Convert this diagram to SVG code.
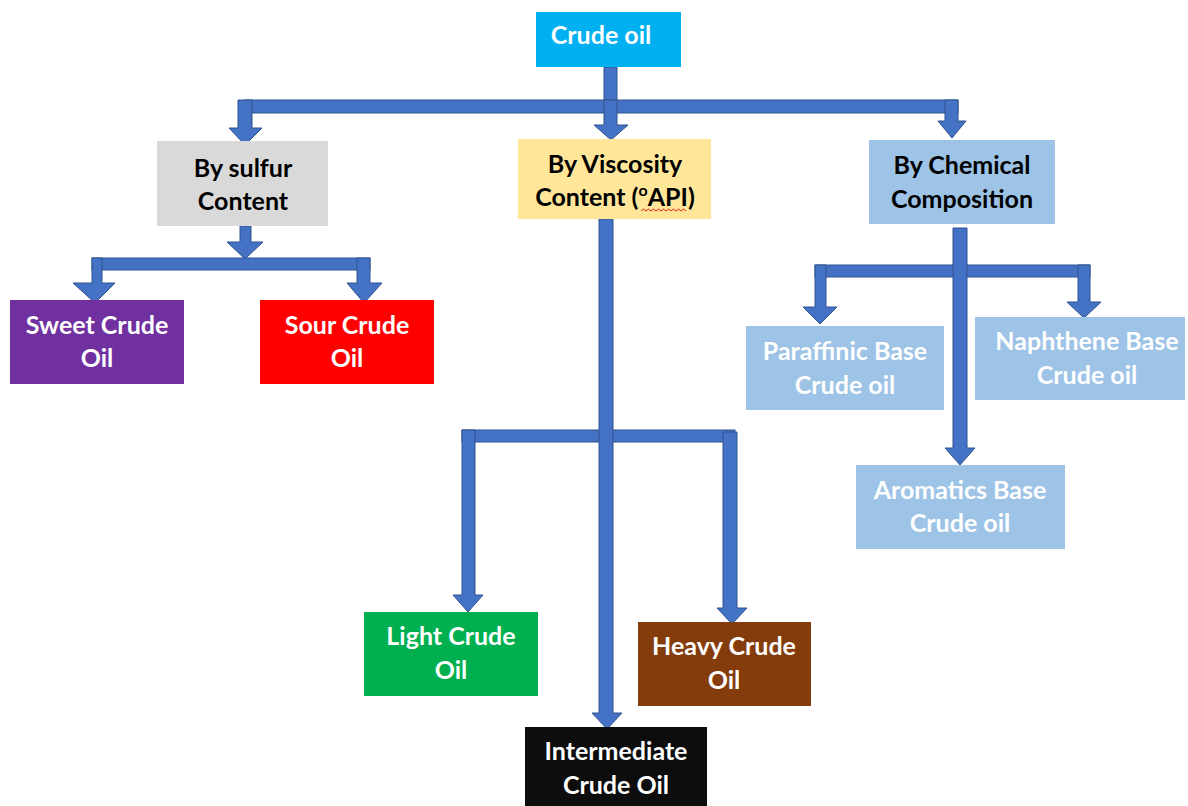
<svg xmlns="http://www.w3.org/2000/svg" width="1188" height="806" viewBox="0 0 1188 806">
<style>
.arr{fill:#4472C4;stroke:#2F528F;stroke-width:1}
.t{font-family:Lato,"Open Sans","Liberation Sans",sans-serif;font-weight:bold;font-size:25px;text-anchor:middle}
.w{fill:#FFFFFF}
.b{fill:#000000}
.lb{fill:#FFFFFF}
</style>
<rect width="1188" height="806" fill="#FFFFFF"/>
<g id="connectors">
<rect class="arr" x="604" y="67" width="13" height="36"/>
<rect class="arr" x="245" y="100" width="713" height="13"/>
<path class="arr" d="M238 100 H252 V128 H262 L245 145 L229 128 H238 Z"/>
<path class="arr" d="M604 100 H617 V125 H628 L611 140 L594 125 H604 Z"/>
<path class="arr" d="M945 100 H958 V121 H966 L952 138 L938 121 H945 Z"/>
<path class="arr" d="M240 226 H251 V242 H263 L245 259 L227 242 H240 Z"/>
<rect class="arr" x="92" y="258" width="278" height="12"/>
<path class="arr" d="M92 258 H102 V283 H115 L95 303 L73 283 H92 Z"/>
<path class="arr" d="M357 258 H370 V283 H382 L364 303 L347 283 H357 Z"/>
<rect class="arr" x="462" y="430" width="273" height="12"/>
<path class="arr" d="M599 219 H613 V713 H622 L607 729 L592 713 H599 Z"/>
<path class="arr" d="M462 430 H475 V595 H483 L468 612 L453 595 H462 Z"/>
<path class="arr" d="M723 432 H737 V608 H747 L732 624 L717 608 H723 Z"/>
<rect class="arr" x="815" y="265" width="275" height="12"/>
<path class="arr" d="M953 228 H967 V448 H975 L960 465 L945 448 H953 Z"/>
<path class="arr" d="M815 265 H826 V307 H837 L820 324 L803 307 H815 Z"/>
<path class="arr" d="M1078 265 H1090 V302 H1101 L1084 318 L1067 302 H1078 Z"/>
</g>
<g id="crude-oil">
<rect x="536" y="12" width="145" height="55" fill="#00B0F0"/>
<text class="t w" x="601" y="44">Crude oil</text>
</g>
<g id="by-sulfur">
<rect x="157" y="141" width="171" height="85" fill="#D9D9D9"/>
<text class="t b" x="243" y="177">By sulfur</text>
<text class="t b" x="243" y="210">Content</text>
</g>
<g id="by-viscosity">
<rect x="518" y="139" width="193" height="80" fill="#FFE699"/>
<text class="t b" x="615" y="173">By Viscosity</text>
<text class="t b" x="615" y="206">Content (<tspan font-size="16" dy="-10">o</tspan><tspan dy="10">API)</tspan></text>
<path d="M641 211 l2.5 -2 l2.5 2 l2.5 -2 l2.5 2 l2.5 -2 l2.5 2 l2.5 -2 l2.5 2 l2.5 -2 l2.5 2 l2.5 -2 l2.5 2 l2.5 -2 l2.5 2 l2.5 -2 l2.5 2 l2.5 -2 l2.5 2" fill="none" stroke="#E02020" stroke-width="1"/>
</g>
<g id="by-chemical">
<rect x="869" y="140" width="186" height="84" fill="#9DC3E6"/>
<text class="t b" x="962" y="174">By Chemical</text>
<text class="t b" x="962" y="208">Composition</text>
</g>
<g id="sweet">
<rect x="10" y="300" width="174" height="84" fill="#7030A0"/>
<text class="t w" x="97" y="334">Sweet Crude</text>
<text class="t w" x="97" y="367">Oil</text>
</g>
<g id="sour">
<rect x="260" y="300" width="174" height="84" fill="#FF0000"/>
<text class="t w" x="347" y="334">Sour Crude</text>
<text class="t w" x="347" y="367">Oil</text>
</g>
<g id="paraffinic">
<rect x="746" y="326" width="198" height="84" fill="#9DC3E6"/>
<text class="t lb" x="845" y="360">Paraffinic Base</text>
<text class="t lb" x="845" y="394">Crude oil</text>
</g>
<g id="naphthene">
<rect x="975" y="317" width="210" height="83" fill="#9DC3E6"/>
<text class="t lb" x="1087" y="350">Naphthene Base</text>
<text class="t lb" x="1087" y="384">Crude oil</text>
</g>
<g id="aromatics">
<rect x="856" y="465" width="209" height="84" fill="#9DC3E6"/>
<text class="t lb" x="960" y="499">Aromatics Base</text>
<text class="t lb" x="960" y="532">Crude oil</text>
</g>
<g id="light">
<rect x="364" y="612" width="174" height="84" fill="#00B050"/>
<text class="t w" x="451" y="645">Light Crude</text>
<text class="t w" x="451" y="679">Oil</text>
</g>
<g id="heavy">
<rect x="638" y="622" width="173" height="84" fill="#843C0C"/>
<text class="t w" x="724" y="655">Heavy Crude</text>
<text class="t w" x="724" y="689">Oil</text>
</g>
<g id="intermediate">
<rect x="525" y="727" width="182" height="79" fill="#0D0D0D"/>
<text class="t w" x="616" y="760">Intermediate</text>
<text class="t w" x="616" y="794">Crude Oil</text>
</g>
</svg>
